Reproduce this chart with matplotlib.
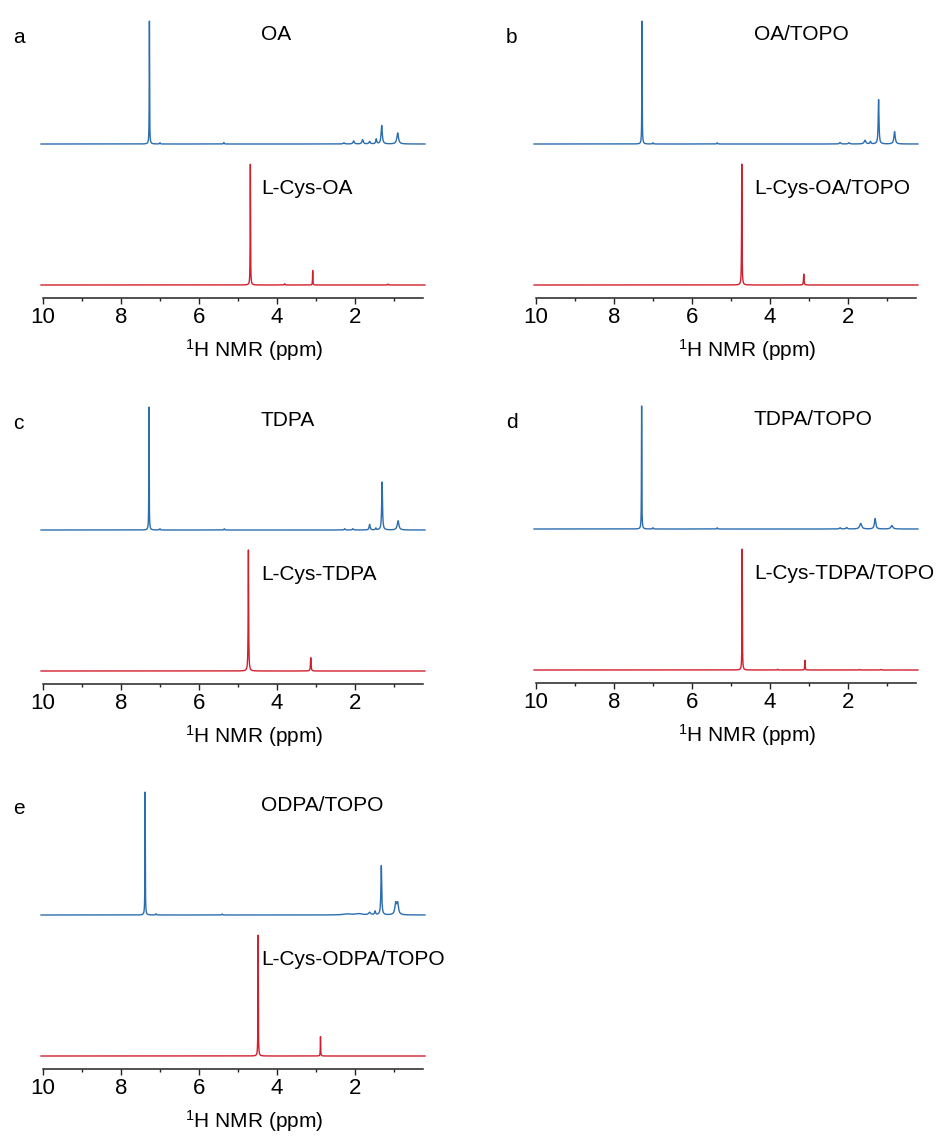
import numpy as np
import matplotlib
matplotlib.use('Agg')
import matplotlib.pyplot as plt
from matplotlib.ticker import FixedLocator

plt.rcParams['font.family'] = ['Liberation Sans', 'DejaVu Sans']
plt.rcParams['mathtext.fontset'] = 'custom'
plt.rcParams['mathtext.rm'] = 'Liberation Sans'
plt.rcParams['mathtext.default'] = 'regular'

# peak lists: shift (ppm), relative height, half width (ppm)
oa_ppm = [7.27, 7.00, 5.36, 2.28, 2.03, 1.80, 1.62, 1.45, 1.31, 0.90]
oa_int = [1.00, 0.01, 0.012, 0.01, 0.025, 0.035, 0.02, 0.04, 0.15, 0.09]
oa_hw = [0.005, 0.01, 0.01, 0.02, 0.02, 0.02, 0.02, 0.015, 0.018, 0.025]

cys_oa_ppm = [4.68, 3.80, 3.08, 1.15]
cys_oa_int = [1.00, 0.01, 0.12, 0.008]
cys_oa_hw = [0.005, 0.01, 0.005, 0.01]

oatopo_ppm = [7.28, 7.00, 5.35, 2.20, 1.97, 1.56, 1.42, 1.21, 0.80]
oatopo_int = [1.00, 0.01, 0.01, 0.012, 0.01, 0.03, 0.02, 0.36, 0.10]
oatopo_hw = [0.005, 0.01, 0.01, 0.02, 0.02, 0.025, 0.015, 0.012, 0.02]

cys_oatopo_ppm = [4.72, 3.13]
cys_oatopo_int = [1.00, 0.09]
cys_oatopo_hw = [0.006, 0.008]

tdpa_ppm = [7.28, 7.00, 5.35, 2.26, 2.05, 1.62, 1.46, 1.30, 0.89]
tdpa_int = [1.00, 0.01, 0.01, 0.01, 0.01, 0.045, 0.015, 0.39, 0.075]
tdpa_hw = [0.005, 0.01, 0.01, 0.015, 0.015, 0.015, 0.012, 0.012, 0.025]

cys_tdpa_ppm = [4.73, 3.13]
cys_tdpa_int = [1.00, 0.11]
cys_tdpa_hw = [0.007, 0.009]

tdpatopo_ppm = [7.29, 7.00, 5.35, 2.20, 2.03, 1.67, 1.30, 0.87]
tdpatopo_int = [1.00, 0.01, 0.01, 0.01, 0.012, 0.045, 0.085, 0.028]
tdpatopo_hw = [0.005, 0.01, 0.01, 0.02, 0.02, 0.03, 0.02, 0.03]

cys_tdpatopo_ppm = [4.71, 3.80, 3.10, 1.70, 1.15]
cys_tdpatopo_int = [1.00, 0.006, 0.08, 0.005, 0.005]
cys_tdpatopo_hw = [0.005, 0.01, 0.006, 0.01, 0.01]

odpatopo_ppm = [7.38, 7.10, 5.40, 2.20, 1.90, 1.62, 1.48, 1.32, 0.95, 0.90]
odpatopo_int = [1.00, 0.01, 0.008, 0.008, 0.01, 0.02, 0.03, 0.40, 0.09, 0.09]
odpatopo_hw = [0.005, 0.01, 0.01, 0.12, 0.1, 0.03, 0.015, 0.012, 0.025, 0.025]

cys_odpatopo_ppm = [4.48, 2.88]
cys_odpatopo_int = [1.00, 0.16]
cys_odpatopo_hw = [0.005, 0.005]

shift = np.linspace(10.05, 0.2, 20001)


def spectrum(ppm, inten, hw):
    y = np.zeros_like(shift)
    for p, a, w in zip(ppm, inten, hw):
        y += a / (1 + ((shift - p) / w) ** 2)
    return y


BLUE = '#2c6db0'
RED = '#d21f2e'
W, H = 937, 1136

# letter, left px, axis px, top label, bottom label, blue peaks, red peaks
panels = [
    ('a', 43, 298, 'OA', 'L-Cys-OA',
     (oa_ppm, oa_int, oa_hw), (cys_oa_ppm, cys_oa_int, cys_oa_hw)),
    ('b', 536, 298, 'OA/TOPO', 'L-Cys-OA/TOPO',
     (oatopo_ppm, oatopo_int, oatopo_hw), (cys_oatopo_ppm, cys_oatopo_int, cys_oatopo_hw)),
    ('c', 43, 684, 'TDPA', 'L-Cys-TDPA',
     (tdpa_ppm, tdpa_int, tdpa_hw), (cys_tdpa_ppm, cys_tdpa_int, cys_tdpa_hw)),
    ('d', 536, 683, 'TDPA/TOPO', 'L-Cys-TDPA/TOPO',
     (tdpatopo_ppm, tdpatopo_int, tdpatopo_hw), (cys_tdpatopo_ppm, cys_tdpatopo_int, cys_tdpatopo_hw)),
    ('e', 43, 1069, 'ODPA/TOPO', 'L-Cys-ODPA/TOPO',
     (odpatopo_ppm, odpatopo_int, odpatopo_hw), (cys_odpatopo_ppm, cys_odpatopo_int, cys_odpatopo_hw)),
]

fig = plt.figure(figsize=(9.37, 11.36), dpi=100)

AX_H = 290
for letter, left, base, top_lbl, bot_lbl, blue, red in panels:
    ax = fig.add_axes([left / W, 1 - base / H, 380 / W, AX_H / H])
    ax.patch.set_alpha(0)
    ax.plot(shift, 154 + 123 * spectrum(*blue), color=BLUE, lw=1.0, clip_on=False)
    ax.plot(shift, 13 + 121 * spectrum(*red), color=RED, lw=1.0, clip_on=False)
    ax.set_xlim(10, 0.25)
    ax.set_ylim(0, AX_H)
    for s in ['top', 'left', 'right']:
        ax.spines[s].set_visible(False)
    ax.spines['bottom'].set_linewidth(1.1)
    ax.spines['bottom'].set_color('#222222')
    ax.set_yticks([])
    ax.xaxis.set_major_locator(FixedLocator([10, 8, 6, 4, 2]))
    ax.xaxis.set_minor_locator(FixedLocator([9, 7, 5, 3, 1]))
    ax.tick_params(axis='x', which='major', length=4, width=1.0, direction='out',
                   labelsize=16, pad=2.5, color='#222222')
    ax.tick_params(axis='x', which='minor', length=2.4, width=1.0, direction='out',
                   color='#222222')
    ax.text(0.556, -52 / AX_H, r'$^{1}$H NMR (ppm)', transform=ax.transAxes,
            ha='center', va='center', fontsize=15)

    # panel letter and sample names (pixel positions)
    fig.text((left - 30) / W, 1 - (base - 255) / H, letter, fontsize=15, va='baseline')
    fig.text((left + 218) / W, 1 - (base - 258) / H, top_lbl, fontsize=15, va='baseline')
    fig.text((left + 218) / W, 1 - (base - 104) / H, bot_lbl, fontsize=15, va='baseline')

fig.savefig('out.png', dpi=100)
